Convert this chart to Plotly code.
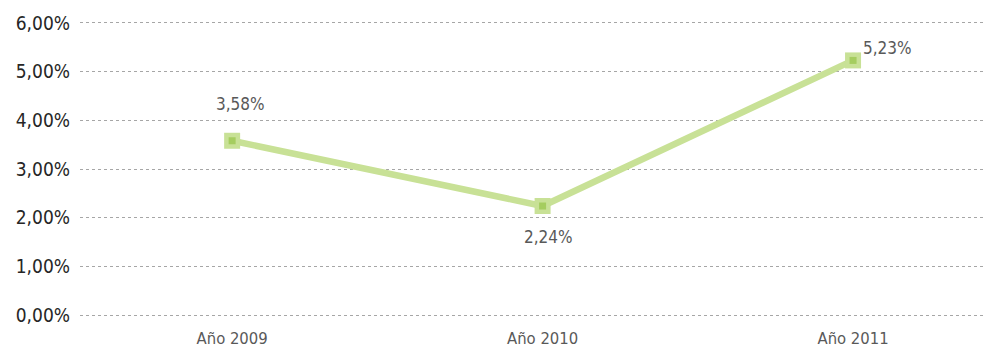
import plotly.graph_objects as go

years = ["Año 2009", "Año 2010", "Año 2011"]
rates = [3.58, 2.24, 5.23]
rate_labels = ["3,58%", "2,24%", "5,23%"]
y_ticks = [0, 1, 2, 3, 4, 5, 6]
y_tick_text = ["0,00%", "1,00%", "2,00%", "3,00%", "4,00%", "5,00%", "6,00%"]
# label offsets (px) from each point
label_dx = [8, 6, 34]
label_dy = [37, -31, 12]

FONT = "DejaVu Sans Condensed, Liberation Sans Narrow, Liberation Sans, sans-serif"

fig = go.Figure()

# thick light-green line with square markers
fig.add_trace(go.Scatter(
    x=years, y=rates, mode="lines+markers",
    line=dict(color="#c8e196", width=6.5),
    marker=dict(symbol="square", size=16, color="#c8e196"),
    hoverinfo="skip", showlegend=False,
))
# darker core of each marker
fig.add_trace(go.Scatter(
    x=years, y=rates, mode="markers",
    marker=dict(symbol="square", size=7, color="#a5cd5f"),
    hoverinfo="skip", showlegend=False,
))

for yr, v, t, dx, dy in zip(years, rates, rate_labels, label_dx, label_dy):
    fig.add_annotation(
        x=yr, y=v, text=t, showarrow=False, xshift=dx, yshift=dy,
        font=dict(family=FONT, size=17, color="#595959"),
    )

fig.update_layout(
    width=1000, height=348,
    margin=dict(l=80, r=15, t=20, b=30),
    paper_bgcolor="white", plot_bgcolor="white",
    font=dict(family=FONT),
)
fig.update_xaxes(
    range=[-0.49, 2.425], showgrid=False, showline=False, zeroline=False,
    ticks="", tickfont=dict(family=FONT, size=16.5, color="#595959"),
    ticklabelstandoff=8, automargin=False,
)
fig.update_yaxes(
    range=[-0.06, 6.06], tickvals=y_ticks, ticktext=y_tick_text,
    showgrid=True, gridcolor="#a6a6a6", griddash="3px,3px", gridwidth=1,
    zeroline=False, showline=False, ticks="",
    tickfont=dict(family=FONT, size=19, color="#262626"),
    ticklabelstandoff=9, automargin=False,
)

fig.write_html("out.html")
